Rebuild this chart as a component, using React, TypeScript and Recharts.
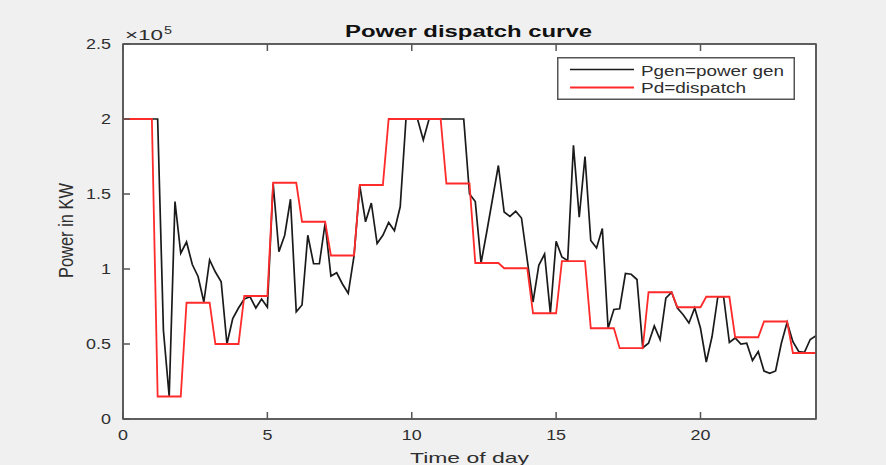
import { CartesianGrid, Legend, Line, LineChart, ReferenceArea, XAxis, YAxis } from "recharts";

// time of day, hours (0.2 h sampling)
const timeOfDay = [
  0, 0.2, 0.4, 0.6, 0.8, 1, 1.2, 1.4, 1.6, 1.8,
  2, 2.2, 2.4, 2.6, 2.8, 3, 3.2, 3.4, 3.6, 3.8,
  4, 4.2, 4.4, 4.6, 4.8, 5, 5.2, 5.4, 5.6, 5.8,
  6, 6.2, 6.4, 6.6, 6.8, 7, 7.2, 7.4, 7.6, 7.8,
  8, 8.2, 8.4, 8.6, 8.8, 9, 9.2, 9.4, 9.6, 9.8,
  10, 10.2, 10.4, 10.6, 10.8, 11, 11.2, 11.4, 11.6, 11.8,
  12, 12.2, 12.4, 12.6, 12.8, 13, 13.2, 13.4, 13.6, 13.8,
  14, 14.2, 14.4, 14.6, 14.8, 15, 15.2, 15.4, 15.6, 15.8,
  16, 16.2, 16.4, 16.6, 16.8, 17, 17.2, 17.4, 17.6, 17.8,
  18, 18.2, 18.4, 18.6, 18.8, 19, 19.2, 19.4, 19.6, 19.8,
  20, 20.2, 20.4, 20.6, 20.8, 21, 21.2, 21.4, 21.6, 21.8,
  22, 22.2, 22.4, 22.6, 22.8, 23, 23.2, 23.4, 23.6, 23.8,
  24,
];

// Pgen = power gen (x10^5 KW)
const pgen = [
  2, 2, 2, 2, 2, 2, 2, 0.59, 0.15, 1.45,
  1.105, 1.18, 1.03, 0.95, 0.78, 1.06, 0.98, 0.915, 0.5, 0.67,
  0.74, 0.8, 0.815, 0.74, 0.8, 0.745, 1.57, 1.115, 1.225, 1.465,
  0.715, 0.76, 1.225, 1.035, 1.035, 1.305, 0.953, 0.975, 0.9, 0.838,
  1.085, 1.555, 1.315, 1.44, 1.17, 1.225, 1.31, 1.255, 1.415, 2,
  2, 2, 1.86, 2, 2, 2, 2, 2, 2, 2,
  1.5, 1.45, 1.04, 1.25, 1.47, 1.69, 1.38, 1.35, 1.385, 1.34,
  1.06, 0.78, 1.025, 1.1, 0.705, 1.185, 1.08, 1.055, 1.825, 1.345,
  1.75, 1.19, 1.14, 1.27, 0.605, 0.73, 0.735, 0.97, 0.965, 0.93,
  0.475, 0.505, 0.62, 0.53, 0.805, 0.845, 0.74, 0.695, 0.64, 0.74,
  0.605, 0.38, 0.55, 0.815, 0.815, 0.51, 0.54, 0.5, 0.505, 0.39,
  0.45, 0.32, 0.305, 0.32, 0.505, 0.645, 0.515, 0.45, 0.445, 0.53,
  0.555,
];

// Pd = dispatch (x10^5 KW), hourly levels
const pd = [
  2, 2, 2, 2, 2, 2, 0.15, 0.15, 0.15, 0.15,
  0.15, 0.775, 0.775, 0.775, 0.775, 0.775, 0.5, 0.5, 0.5, 0.5,
  0.5, 0.82, 0.82, 0.82, 0.82, 0.82, 1.575, 1.575, 1.575, 1.575,
  1.575, 1.315, 1.315, 1.315, 1.315, 1.315, 1.09, 1.09, 1.09, 1.09,
  1.09, 1.56, 1.56, 1.56, 1.56, 1.56, 2, 2, 2, 2,
  2, 2, 2, 2, 2, 2, 1.57, 1.57, 1.57, 1.57,
  1.57, 1.04, 1.04, 1.04, 1.04, 1.04, 1.005, 1.005, 1.005, 1.005,
  1.005, 0.705, 0.705, 0.705, 0.705, 0.705, 1.053, 1.053, 1.053, 1.053,
  1.053, 0.605, 0.605, 0.605, 0.605, 0.605, 0.472, 0.472, 0.472, 0.472,
  0.472, 0.845, 0.845, 0.845, 0.845, 0.845, 0.745, 0.745, 0.745, 0.745,
  0.745, 0.815, 0.815, 0.815, 0.815, 0.815, 0.545, 0.545, 0.545, 0.545,
  0.545, 0.65, 0.65, 0.65, 0.65, 0.65, 0.44, 0.44, 0.44, 0.44,
  0.44,
];

const xTicks = [0, 5, 10, 15, 20];
const yTicks = [0, 0.5, 1, 1.5, 2, 2.5];

const data = timeOfDay.map((t, i) => ({ t, pgen: pgen[i], pd: pd[i] }));

const FONT = '"Liberation Sans", Arial, Helvetica, sans-serif';
const AXIS = "#555555";
const INK = "#2e2e2e";
const SX = 1.28;

function BottomTick({ x, y, payload }: any) {
  return (
    <g>
      <line x1={x} x2={x} y1={y} y2={y - 7} stroke={AXIS} strokeWidth={1.5} />
      <text transform={`translate(${x},${y + 21}) scale(${SX},1)`} textAnchor="middle" fontSize={14} fill={INK} fontFamily={FONT}>
        {payload.value}
      </text>
    </g>
  );
}

function TopTick({ x, y }: any) {
  return <line x1={x} x2={x} y1={y} y2={y + 7} stroke={AXIS} strokeWidth={1.5} />;
}

function LeftTick({ x, y, payload }: any) {
  return (
    <g>
      <line x1={x} x2={x + 7} y1={y} y2={y} stroke={AXIS} strokeWidth={1.5} />
      <text transform={`translate(${x - 12},${y + 5}) scale(${SX},1)`} textAnchor="end" fontSize={14} fill={INK} fontFamily={FONT}>
        {String(payload.value)}
      </text>
    </g>
  );
}

function RightTick({ x, y }: any) {
  return <line x1={x} x2={x - 7} y1={y} y2={y} stroke={AXIS} strokeWidth={1.5} />;
}

function LegendBox() {
  return (
    <svg width={238} height={43} style={{ display: "block" }}>
      <rect x={0.75} y={0.75} width={236.5} height={41.5} fill="#ffffff" stroke={AXIS} strokeWidth={1.5} />
      <line x1={13} x2={77} y1={12.5} y2={12.5} stroke="#1a1a1a" strokeWidth={1.4} />
      <line x1={13} x2={77} y1={30.5} y2={30.5} stroke="#ff2a2a" strokeWidth={1.8} />
      <text x={84} y={18.5} fontSize={15} fill={INK} fontFamily={FONT} textLength={143} lengthAdjust="spacingAndGlyphs">
        Pgen=power gen
      </text>
      <text x={84} y={36} fontSize={15} fill={INK} fontFamily={FONT} textLength={105} lengthAdjust="spacingAndGlyphs">
        Pd=dispatch
      </text>
    </svg>
  );
}

export default function App() {
  return (
    <div style={{ position: "absolute", left: 0, top: 0, width: 886, height: 465, background: "#f0f0f0", fontFamily: FONT, overflow: "hidden" }}>
      <LineChart width={886} height={465} data={data} margin={{ top: 43, right: 69, bottom: 16, left: 78 }}>
        <CartesianGrid horizontal={false} vertical={false} fill="#ffffff" />
        <XAxis
          dataKey="t"
          type="number"
          domain={[0, 24]}
          ticks={xTicks}
          interval={0}
          height={30}
          tickSize={0}
          tickMargin={0}
          tickLine={false}
          axisLine={{ stroke: AXIS, strokeWidth: 1.5 }}
          tick={<BottomTick />}
        />
        <XAxis
          xAxisId="top"
          orientation="top"
          dataKey="t"
          type="number"
          domain={[0, 24]}
          ticks={xTicks}
          interval={0}
          height={1}
          tickSize={0}
          tickMargin={0}
          tickLine={false}
          axisLine={{ stroke: AXIS, strokeWidth: 1.5 }}
          tick={<TopTick />}
        />
        <YAxis
          type="number"
          domain={[0, 2.5]}
          ticks={yTicks}
          interval={0}
          width={45}
          tickSize={0}
          tickMargin={0}
          tickLine={false}
          axisLine={{ stroke: AXIS, strokeWidth: 1.5 }}
          tick={<LeftTick />}
        />
        <YAxis
          yAxisId="right"
          orientation="right"
          type="number"
          domain={[0, 2.5]}
          ticks={yTicks}
          interval={0}
          width={1}
          tickSize={0}
          tickMargin={0}
          tickLine={false}
          axisLine={{ stroke: AXIS, strokeWidth: 1.5 }}
          tick={<RightTick />}
        />
        <ReferenceArea x1={0} x2={24} y1={0} y2={2.5} fill="none" stroke={AXIS} strokeWidth={1.6} ifOverflow="visible" />
        <Legend
          layout="vertical"
          align="center"
          verticalAlign="middle"
          wrapperStyle={{ position: "absolute", left: 557, top: 57, width: 238, height: 43 }}
          content={() => <LegendBox />}
        />
        <Line type="linear" dataKey="pgen" name="Pgen=power gen" stroke="#1a1a1a" strokeWidth={1.7} dot={false} isAnimationActive={false} />
        <Line type="linear" dataKey="pd" name="Pd=dispatch" stroke="#ff2a2a" strokeWidth={1.8} dot={false} isAnimationActive={false} />
      </LineChart>
      <svg width={886} height={465} style={{ position: "absolute", left: 0, top: 0, pointerEvents: "none" }}>
        <text x={468.5} y={37} textAnchor="middle" fontSize={16} fontWeight="bold" fill="#111" fontFamily={FONT} textLength={247} lengthAdjust="spacingAndGlyphs">
          Power dispatch curve
        </text>
        <text x={125} y={40} fontSize={14} fill={INK} fontFamily={FONT} textLength={38} lengthAdjust="spacingAndGlyphs">
          ×10
        </text>
        <text x={164} y={34} fontSize={10} fill={INK} fontFamily={FONT} textLength={8} lengthAdjust="spacingAndGlyphs">
          5
        </text>
        <text x={469.5} y={462.5} textAnchor="middle" fontSize={15} fill={INK} fontFamily={FONT} textLength={119} lengthAdjust="spacingAndGlyphs">
          Time of day
        </text>
        <text
          transform="translate(72.5,230.5) scale(1.3,1) rotate(-90)"
          textAnchor="middle"
          fontSize={16}
          fill={INK}
          fontFamily={FONT}
          textLength={95}
          lengthAdjust="spacingAndGlyphs"
        >
          Power in KW
        </text>
      </svg>
    </div>
  );
}
